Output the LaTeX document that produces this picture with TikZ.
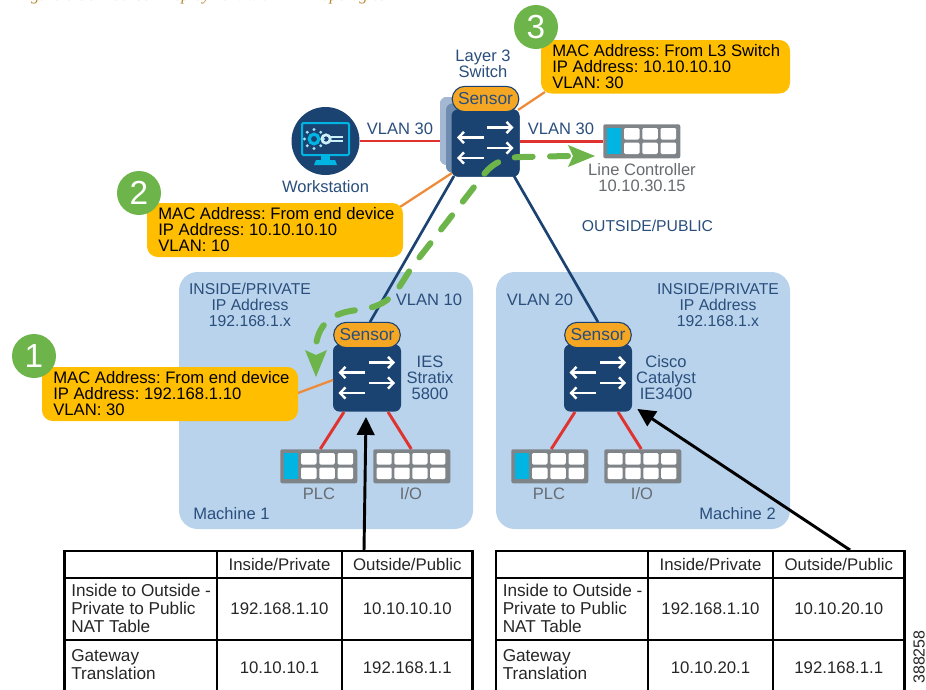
\documentclass[tikz,border=0pt]{standalone}
\usepackage{fontspec}
\setmainfont{Liberation Sans}
\newfontfamily\capfont{Liberation Serif}
\usetikzlibrary{arrows.meta,calc}
\definecolor{navy}{HTML}{1B4371}
\definecolor{txtblue}{HTML}{2A4E7C}
\definecolor{panel}{HTML}{B9D3EC}
\definecolor{amber}{HTML}{FFBE00}
\definecolor{sens}{HTML}{F5A623}
\definecolor{grn}{HTML}{6DB54A}
\definecolor{redl}{HTML}{E0332F}
\definecolor{orgl}{HTML}{EE8B3A}
\definecolor{gry}{HTML}{7F8488}
\definecolor{gtxt}{HTML}{666B70}
\definecolor{cyn}{HTML}{00B5E2}
\definecolor{capc}{HTML}{B8862E}
\definecolor{stackA}{HTML}{A4B8D3}
\definecolor{stackB}{HTML}{6E8CB0}
\tikzset{
 x=0.75pt,y=-0.75pt,
 lbl/.style={font=\fontsize{12.4}{12}\selectfont,text=txtblue,align=center,inner sep=0pt},
 lblcap/.style={font=\fontsize{11.8}{12}\selectfont,text=txtblue,align=center,inner sep=0pt},
 glbl/.style={font=\fontsize{12.4}{12}\selectfont,text=gtxt,align=center,inner sep=0pt},
 calltxt/.style={font=\fontsize{12.5}{11.9}\selectfont,text=black,align=left,inner sep=0pt,anchor=north west},
 callbox/.style={fill=amber,rounded corners=8pt},
 badge/.style={circle,fill=grn,text=white,minimum size=33pt,inner sep=0pt,font=\fontsize{25}{25}\selectfont},
 sw/.style={fill=navy,rounded corners=5pt,minimum width=51pt,minimum height=50.5pt,inner sep=0pt},
 stackbox/.style={rounded corners=5pt,inner sep=0pt},
 sensor/.style={fill=sens,draw=navy,line width=0.8pt,rounded corners=9.5pt,minimum width=50pt,minimum height=19pt,inner sep=0pt,text=txtblue,font=\fontsize{13}{13}\selectfont},
 panelbox/.style={fill=panel,rounded corners=14pt},
 redlink/.style={draw=redl,line width=2.2pt},
 orglink/.style={draw=orgl,line width=1.7pt},
 bluelink/.style={draw=navy,line width=2pt},
 pathg/.style={draw=grn,line width=4.5pt,line cap=round,dash pattern=on 13.5pt off 13pt},
 blk/.style={draw=black,line width=2.2pt},
 tline/.style={draw=black,line width=1.3pt},
 touter/.style={draw=black,line width=2pt},
 tt/.style={font=\fontsize{12.6}{12.6}\selectfont,text=black!85,inner sep=0pt,align=center},
 ttl/.style={font=\fontsize{12.9}{13.6}\selectfont,text=black!85,inner sep=0pt,align=left,anchor=west},
 warr/.style={draw=white,line width=2.1pt,-{Straight Barb[length=4pt,width=8.5pt,line width=1.8pt]}},
 dev/.style={fill=gry,rounded corners=1.5pt,minimum width=57.75pt,minimum height=25.5pt,inner sep=0pt,anchor=north west},
}
\newcommand{\swarrows}[2]{%
 \draw[warr] (#1+1.5,#2-15.5) -- (#1+28,#2-15.5);
 \draw[warr] (#1-2,#2-5.5) -- (#1-28.5,#2-5.5);
 \draw[warr] (#1+1.5,#2+5) -- (#1+28,#2+5);
 \draw[warr] (#1-2,#2+15) -- (#1-28.5,#2+15);
}
% device block: name, x, y, cyan slot flag
\newcommand{\plc}[4]{%
 \node[dev] (#1) at (#2,#3) {};
 \ifnum#4=1
  \fill[cyn] (#2+4,#3+4) rectangle ++(14,26);
  \foreach \c in {0,1,2}{\fill[white,rounded corners=1pt] (#2+21+\c*18.3,#3+4) rectangle ++(15.5,11.5);
   \fill[white,rounded corners=1pt] (#2+21+\c*18.3,#3+18.5) rectangle ++(15.5,11.5);}
 \else
  \foreach \c in {0,1,2,3}{\fill[white,rounded corners=1pt] (#2+3.5+\c*17.9,#3+4) rectangle ++(15.2,11.5);
   \fill[white,rounded corners=1pt] (#2+3.5+\c*17.9,#3+18.5) rectangle ++(15.2,11.5);}
 \fi
}
\newcommand{\nattable}[8]{% x0 x1 x2 x3 top, outside ip, gateway ip, prefix
 \def\xa{#1}\def\xb{#2}\def\xc{#3}\def\xd{#4}\def\ya{#5}
 \draw[tline] (\xa,\ya+27) -- (\xd,\ya+27);
 \draw[tline] (\xa,\ya+89) -- (\xd,\ya+89);
 \draw[tline] (\xb,\ya) -- (\xb,692);
 \draw[tline] (\xc,\ya) -- (\xc,692);
 \draw[touter] (\xa,692) -- (\xa,\ya) -- (\xd,\ya) -- (\xd,692);
 \node[tt] (#8h1) at ({(\xb+\xc)/2},\ya+13.5) {Inside/Private};
 \node[tt] (#8h2) at ({(\xc+\xd)/2},\ya+13.5) {Outside/Public};
 \node[ttl] (#8r1) at (\xa+6.5,\ya+57.5) {Inside to Outside -\\Private to Public\\NAT Table};
 \node[ttl] (#8r2) at (\xa+6.5,\ya+114) {Gateway\\Translation};
 \node[tt] (#8a1) at ({(\xb+\xc)/2},\ya+58) {192.168.1.10};
 \node[tt] (#8a2) at ({(\xc+\xd)/2},\ya+58) {#6};
 \node[tt] (#8b1) at ({(\xb+\xc)/2},\ya+117) {#7};
 \node[tt] (#8b2) at ({(\xc+\xd)/2},\ya+117) {192.168.1.1};
}
\frenchspacing
\begin{document}
\begin{tikzpicture}
\useasboundingbox (0,0) rectangle (926,690);
\node[font=\capfont\itshape\fontsize{12.5}{12.5}\selectfont,text=capc,anchor=base west,inner sep=0pt] (cap) at (16,0) {Figure 6-36\quad Sensor Deployment with NAT Topologies};
% panels
\fill[panelbox] (179,272) rectangle (473,529);
\fill[panelbox] (496,272) rectangle (790,529);
% nodes the links attach to
\node[sw] (s3) at (485.5,143) {};
\node[sw] (s1) at (367,378) {};
\node[sw] (s2) at (598,378) {};
\node[stackbox,fill=stackA,minimum width=22.5pt,minimum height=51pt] (s3back) at (455,131) {};
\node[stackbox,fill=stackB,minimum width=22.5pt,minimum height=52pt] (s3mid) at (461,138) {};
\node[circle,fill=navy,minimum size=51pt,inner sep=0pt] (ws) at (325.5,141) {};
\plc{lcd}{603}{124}{1}
\plc{plc1}{280}{449}{1}
\plc{io1}{373}{449}{0}
\plc{plc2}{511}{449}{1}
\plc{io2}{604}{449}{0}
% links
\coordinate (s3w) at (s3back.west |- ws);
\draw[redlink] (ws.east) -- (s3w);
\draw[redlink] (s3.east |- lcd.west) -- (lcd.west);
\coordinate (s3bl) at (454,176);
\coordinate (s3br) at (514,176);
\coordinate (s1t) at (370,322);
\coordinate (s2t) at (598,322);
\draw[bluelink] (s3bl) -- (s1t);
\draw[bluelink] (s3br) -- (s2t);
\coordinate (c3a) at (545,92);
\coordinate (c3b) at (518,110);
\draw[orglink] (c3a) -- (c3b);
\coordinate (c2a) at (400,207);
\coordinate (c2b) at (452,173);
\draw[orglink] (c2a) -- (c2b);
\coordinate (c1a) at (298,393);
\coordinate (c1b) at (333,380);
\draw[orglink] (c1a) -- (c1b);
\draw[redlink] ($(s1.south)+(-23,0)$) -- ($(plc1.north)+(1.5,0)$);
\draw[redlink] ($(s1.south)+(21,0)$) -- ($(io1.north)+(-0.5,0)$);
\draw[redlink] ($(s2.south)+(-23,0)$) -- ($(plc2.north)+(1.5,0)$);
\draw[redlink] ($(s2.south)+(20,0)$) -- ($(io2.north)+(-1.5,0)$);
% switches in front of their links
\node[stackbox,fill=stackA,minimum width=22.5pt,minimum height=51pt] (s3backf) at (455,131) {};
\node[stackbox,fill=stackB,minimum width=22.5pt,minimum height=52pt] (s3midf) at (461,138) {};
\node[sw] (s3f) at (485.5,143) {};
\swarrows{485.5}{143}
\swarrows{367}{378}
\swarrows{598}{378}
\node[sensor] (sn3) at (485.5,99) {Sensor};
\node[sensor] (sn1) at (367,335) {Sensor};
\node[sensor] (sn2) at (598,335) {Sensor};
% green path
\draw[pathg] (568,156) -- (522,157) .. controls (505,157) and (493,163) .. (485,173) -- (412,267) .. controls (397,289) and (393,306) .. (358,310) .. controls (335,312) and (316,322) .. (315.5,352);
\fill[grn] (595,156) -- (568,145) -- (573,156) -- (568,167) -- cycle;
\fill[grn] (316,377) -- (305,350) -- (316,355) -- (327,350) -- cycle;
% workstation icon
\draw[cyn,line width=1.5pt,rounded corners=1pt] (302,123) rectangle (349,155);
\fill[cyn] (314,165) -- (316,160) -- (335,160) -- (337,165) -- cycle;
\fill[cyn] (321,155) rectangle (330,160);
\draw[cyn,line width=2.4pt] (314,139) circle (4.8);
\foreach \a in {0,45,...,315}{\fill[cyn!35!white] ($(314,139)+(\a:9.5)$) circle (1.6);}
\draw[white!80!cyn,line width=2pt] (326,139) circle (4.2);
\draw[white!80!cyn,line width=1.1pt] (330,137) -- (343,137) (330,141) -- (343,141);
% labels
\node[lbl] (l3) at (483,64) {Layer 3\\Switch};
\node[lbl] (wsl) at (325.5,186.5) {Workstation};
\node[lbl] (v30a) at (400,129) {VLAN 30};
\node[lbl] (v30b) at (561,129) {VLAN 30};
\node[glbl] (lc) at (642,178) {Line Controller\\10.10.30.15};
\node[lblcap] (op) at (647.5,226) {OUTSIDE/PUBLIC};
\node[lblcap] (ip1) at (250,305) {INSIDE/PRIVATE\\IP Address\\192.168.1.x};
\node[lbl] (v10) at (429,300) {VLAN 10};
\node[lbl] (v20) at (540,300) {VLAN 20};
\node[lblcap] (ip2) at (718,305) {INSIDE/PRIVATE\\IP Address\\192.168.1.x};
\node[lbl] (ies) at (430,378) {IES\\Stratix\\5800};
\node[lbl] (cat) at (666,378) {Cisco\\Catalyst\\IE3400};
\node[lbl,anchor=west] (m1) at (193,514) {Machine 1};
\node[lbl,anchor=east] (m2) at (776,514) {Machine 2};
\node[glbl] (plc1l) at (319,494) {PLC};
\node[glbl] (io1l) at (411,494) {I/O};
\node[glbl] (plc2l) at (549,494) {PLC};
\node[glbl] (io2l) at (642,494) {I/O};
% callouts
\fill[callbox] (541,40) rectangle (790,93.5);
\node[calltxt] (t3) at (552,44) {MAC Address: From L3 Switch\\IP Address: 10.10.10.10\\VLAN: 30};
\fill[callbox] (147,203) rectangle (403,257);
\node[calltxt] (t2) at (158,207.5) {MAC Address: From end device\\IP Address: 10.10.10.10\\VLAN: 10};
\fill[callbox] (42,367) rectangle (298,421);
\node[calltxt] (t1) at (53,371.5) {MAC Address: From end device\\IP Address: 192.168.1.10\\VLAN: 30};
\node[badge] (b3) at (536,27) {3};
\node[badge] (b2) at (139,193) {2};
\node[badge] (b1) at (34,356) {1};
% tables
\nattable{64.5}{217}{342}{472.5}{551}{10.10.10.10}{10.10.10.1}{ta}
\nattable{496}{648}{773}{904.5}{551}{10.10.20.10}{10.10.20.1}{tb}
% black arrows
\coordinate (aa) at (364,551);
\coordinate (ab) at (850,550);
\draw[blk,-{Triangle[length=13.5pt,width=13pt]}] (aa) -- ($(s1.south)+(-1,5)$);
\draw[blk,-{Triangle[length=13.5pt,width=13pt]}] (ab) -- ($(s2.south east)+(5,-3)$);
\node[font=\fontsize{12}{12}\selectfont,rotate=90,text=black!85,inner sep=0pt] (idn) at (919,657) {388258};
\end{tikzpicture}
\end{document}
